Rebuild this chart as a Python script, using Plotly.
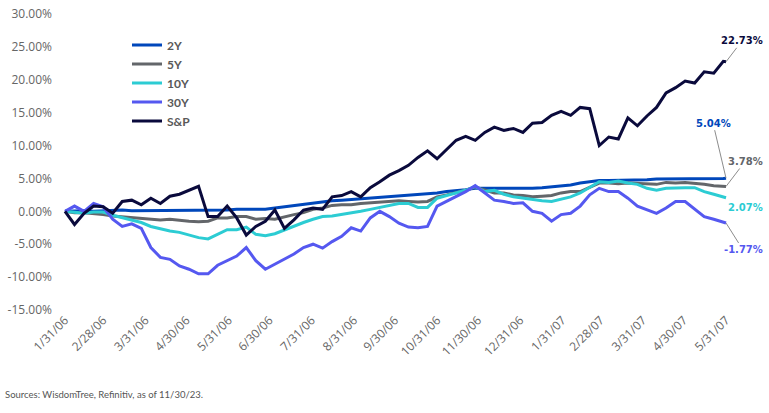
import pandas as pd
import plotly.graph_objects as go

# Weekly observation dates (1/31/06 ... 5/29/07) plus the final 5/31/07 point
dates = list(pd.date_range("2006-01-31", periods=70, freq="7D")) + [pd.Timestamp("2007-05-31")]

# Cumulative returns (%)
y2 = [0.0, 0.1, 0.1, 0.0, 0.1, 0.1, 0.2, 0.1, 0.1, 0.1, 0.1, 0.2, 0.2, 0.2, 0.2,
      0.2, 0.2, 0.2, 0.3, 0.3, 0.3, 0.3, 0.5, 0.7, 0.9, 1.1, 1.3, 1.4, 1.6, 1.7,
      1.8, 2.0, 2.1, 2.2, 2.3, 2.4, 2.4, 2.5, 2.6, 2.8, 3.0, 3.1, 3.3, 3.5, 3.5,
      3.4, 3.5, 3.5, 3.4, 3.5, 3.6, 3.7, 3.9, 4.0, 4.3, 4.5, 4.7, 4.7, 4.7, 4.8,
      4.8, 4.8, 4.9, 4.9, 5.0, 5.0, 5.0, 5.0, 5.0, 5.0, 5.04]
y5 = [0.0, -0.2, -0.2, -0.3, -0.5, -0.7, -0.8, -1.0, -1.1, -1.2, -1.3, -1.2, -1.4, -1.5, -1.6,
      -1.5, -1.0, -1.0, -0.8, -0.8, -1.2, -1.1, -1.2, -0.8, -0.5, -0.2, 0.3, 0.5, 0.9, 1.0,
      1.0, 1.2, 1.3, 1.4, 1.6, 1.6, 1.5, 1.4, 1.5, 2.2, 2.5, 2.8, 3.2, 3.7, 3.2,
      2.8, 2.8, 2.5, 2.4, 2.2, 2.3, 2.4, 2.8, 3.0, 3.0, 3.6, 4.3, 4.3, 4.2, 4.3,
      4.2, 4.1, 4.1, 4.4, 4.3, 4.4, 4.3, 4.1, 3.9, 3.8, 3.78]
y10 = [0.0, -0.2, -0.3, -0.1, -0.1, -0.6, -1.0, -1.3, -1.7, -2.3, -2.7, -3.0, -3.2, -3.6, -4.0,
       -4.2, -3.5, -2.8, -2.8, -2.4, -3.5, -3.7, -3.4, -2.8, -2.3, -1.7, -1.2, -0.8, -0.7, -0.5,
       -0.2, 0.0, 0.3, 0.6, 0.9, 1.2, 1.2, 0.6, 0.6, 2.0, 2.4, 2.8, 3.2, 3.8, 3.0,
       3.2, 2.6, 2.2, 2.0, 1.7, 1.6, 1.5, 1.8, 2.2, 2.8, 3.6, 4.5, 4.4, 4.6, 4.3,
       4.1, 3.5, 3.2, 3.5, 3.6, 3.6, 3.6, 3.0, 2.6, 2.1, 2.07]
y30 = [0.0, 0.8, 0.0, 1.2, 0.7, -1.2, -2.3, -1.9, -2.6, -5.5, -7.0, -7.3, -8.3, -8.8, -9.5,
       -9.5, -8.2, -7.5, -6.8, -5.5, -7.5, -8.8, -8.0, -7.3, -6.5, -5.5, -5.0, -5.6, -4.6, -3.8,
       -2.5, -3.0, -1.0, 0.0, -0.8, -1.8, -2.4, -2.5, -2.3, 0.8, 1.5, 2.2, 3.0, 3.9, 2.8,
       1.7, 1.5, 1.2, 1.3, 0.0, -0.3, -1.5, -0.5, -0.3, 0.8, 2.5, 3.5, 3.0, 3.0, 2.0,
       0.8, 0.3, -0.3, 0.5, 1.5, 1.5, 0.3, -0.8, -1.2, -1.7, -1.77]
sp = [0.0, -2.0, -0.3, 0.8, 0.7, -0.3, 1.5, 1.7, 1.0, 2.0, 1.2, 2.3, 2.6, 3.2, 3.8,
      -0.8, -0.8, 0.8, -1.0, -3.6, -2.3, -1.5, 0.2, -2.6, -1.3, 0.2, 0.5, 0.3, 2.2, 2.4,
      3.0, 2.2, 3.6, 4.5, 5.5, 6.2, 7.0, 8.2, 9.2, 8.0, 9.4, 10.8, 11.4, 10.8, 12.0,
      12.8, 12.3, 12.6, 12.0, 13.4, 13.5, 14.6, 15.2, 14.6, 15.8, 15.6, 10.0, 11.3, 11.0, 14.2,
      13.0, 14.5, 15.8, 18.0, 18.8, 19.8, 19.5, 21.2, 21.0, 22.8, 22.73]

series_names = ["2Y", "5Y", "10Y", "30Y", "S&P"]
series_values = [y2, y5, y10, y30, sp]
series_colors = ["#0047BB", "#63666A", "#2CCCD3", "#5558F0", "#0A0A3C"]

tick_dates = ["2006-01-31", "2006-02-28", "2006-03-31", "2006-04-30", "2006-05-31",
              "2006-06-30", "2006-07-31", "2006-08-31", "2006-09-30", "2006-10-31",
              "2006-11-30", "2006-12-31", "2007-01-31", "2007-02-28", "2007-03-31",
              "2007-04-30", "2007-05-31"]
tick_labels = ["1/31/06", "2/28/06", "3/31/06", "4/30/06", "5/31/06", "6/30/06",
               "7/31/06", "8/31/06", "9/30/06", "10/31/06", "11/30/06", "12/31/06",
               "1/31/07", "2/28/07", "3/31/07", "4/30/07", "5/31/07"]
y_ticks = [-15, -10, -5, 0, 5, 10, 15, 20, 25, 30]
y_ticklabels = ["-15.00%", "-10.00%", "-5.00%", "0.00%", "5.00%", "10.00%",
                "15.00%", "20.00%", "25.00%", "30.00%"]

fig = go.Figure()
for name, vals, col in zip(series_names, series_values, series_colors):
    fig.add_trace(go.Scatter(x=dates, y=vals, name=name, mode="lines",
                             line=dict(color=col, width=3)))

# End-value labels (text, value, colour, x offset, y offset, leader line)
end_labels = [
    ("22.73%", sp[-1], "#0A0A3C", 16, -21, True),
    ("5.04%", y2[-1], "#0047BB", -13, -55, True),
    ("3.78%", y5[-1], "#63666A", 19, -25, True),
    ("2.07%", y10[-1], "#2CCCD3", 19, 10, False),
    ("-1.77%", y30[-1], "#5558F0", 17, 27, True),
]
for txt, yv, col, ax, ay, arrow in end_labels:
    fig.add_annotation(x=dates[-1], y=yv, xref="x", yref="y", text=f"<b>{txt}</b>",
                       showarrow=True, arrowhead=0, arrowwidth=1,
                       arrowcolor="#8c8c8c" if arrow else "rgba(0,0,0,0)",
                       ax=ax, ay=ay, standoff=0,
                       font=dict(family="DejaVu Sans", size=10, color=col))

fig.add_annotation(x=-0.0733, y=-0.287, xref="paper", yref="paper", xanchor="left", yanchor="middle",
                   text="Sources: WisdomTree, Refinitiv, as of 11/30/23.", showarrow=False,
                   font=dict(family="Lato", size=9.5, color="#555555"))

fig.update_layout(
    template="none",
    width=769, height=413,
    margin=dict(l=53, r=34, t=14, b=103, autoexpand=False),
    paper_bgcolor="white", plot_bgcolor="white",
    hovermode=False,
    showlegend=True,
    legend=dict(x=0.1085, y=0.944, xanchor="left", yanchor="top",
                font=dict(family="Lato", size=12, color="#595959", weight="bold"),
                bgcolor="rgba(0,0,0,0)", borderwidth=0, itemwidth=30, tracegroupgap=0),
    xaxis=dict(range=["2006-01-22 05:00", "2007-06-06 14:00"], tickmode="array", tickvals=tick_dates,
               ticktext=tick_labels, tickangle=-45, showgrid=False, zeroline=False,
               showline=False, ticks="", automargin=False,
               tickfont=dict(family="Open Sans", size=12, color="#666666")),
    yaxis=dict(range=[-15, 30], tickmode="array", tickvals=y_ticks, ticktext=y_ticklabels,
               showgrid=False, zeroline=False, showline=False, ticks="", automargin=False,
               tickfont=dict(family="Open Sans", size=12, color="#666666")),
)

fig.write_html("out.html", config={"displayModeBar": False},
               post_script="document.body.style.margin='0';")
